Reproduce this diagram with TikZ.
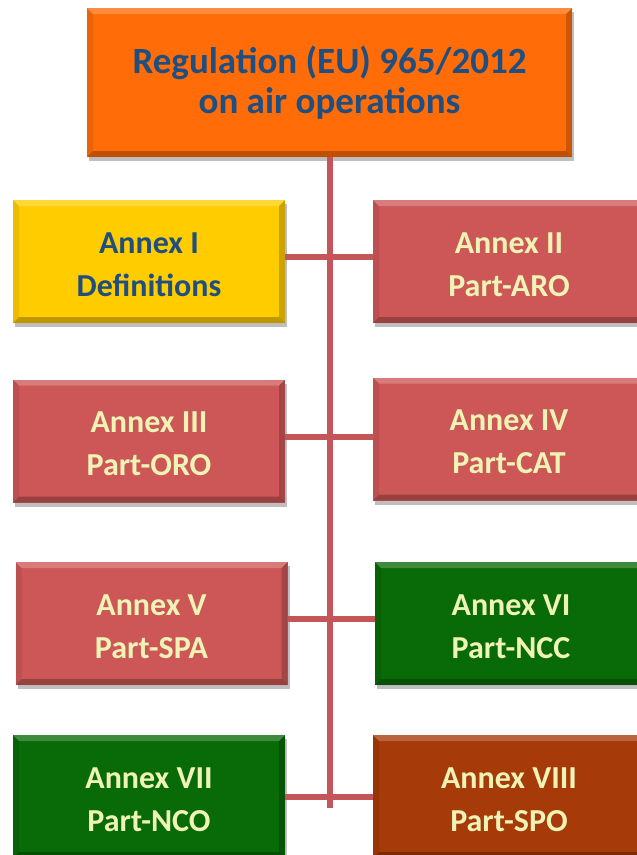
\documentclass[tikz,border=0pt]{standalone}
\usepackage{fontspec}
\setmainfont{Carlito}
\usetikzlibrary{shadows}
\definecolor{cOrange}{HTML}{FF6C08}
\definecolor{cYellow}{HTML}{FFCC00}
\definecolor{cRed}{HTML}{CD5757}
\definecolor{cGreen}{HTML}{086B08}
\definecolor{cBrown}{HTML}{A63A08}
\definecolor{cLine}{HTML}{C4565A}
\definecolor{tBlue}{HTML}{1F4E80}
\definecolor{tLight}{HTML}{EFF4B6}
\newcommand{\tallrow}{\rule{0pt}{27pt}}
\tikzset{
  bevel/.style={path picture={
    \fill[white,opacity=0.22] (path picture bounding box.north west) -- (path picture bounding box.north east) -- ([shift={(-6pt,-6pt)}]path picture bounding box.north east) -- ([shift={(6pt,-6pt)}]path picture bounding box.north west) -- cycle;
    \fill[black,opacity=0.08] (path picture bounding box.north west) -- ([shift={(6pt,-6pt)}]path picture bounding box.north west) -- ([shift={(6pt,6pt)}]path picture bounding box.south west) -- (path picture bounding box.south west) -- cycle;
    \fill[black,opacity=0.2] (path picture bounding box.north east) -- ([shift={(-6pt,-6pt)}]path picture bounding box.north east) -- ([shift={(-6pt,6pt)}]path picture bounding box.south east) -- (path picture bounding box.south east) -- cycle;
    \fill[black,opacity=0.25] (path picture bounding box.south west) -- ([shift={(6pt,6pt)}]path picture bounding box.south west) -- ([shift={(-6pt,6pt)}]path picture bounding box.south east) -- (path picture bounding box.south east) -- cycle;
  }},
  box/.style={rectangle, minimum width=272pt, minimum height=123pt, inner sep=0pt,
    align=center, text=tLight, font=\fontsize{32}{43}\selectfont\bfseries,
    drop shadow={shadow xshift=2pt, shadow yshift=-4pt, opacity=0.25, fill=black}, bevel},
  topbox/.style={box, minimum width=485pt, minimum height=149pt, fill=cOrange, text=tBlue,
    font=\fontsize{37}{41}\selectfont\bfseries},
  link/.style={draw=cLine, line width=6pt}
}
\begin{document}
\begin{tikzpicture}[x=1pt,y=-1pt]
\useasboundingbox (0,0) rectangle (637,855);
\node[topbox] (reg) at (329.5,82.5) {Regulation (EU) 965/2012\\[-1pt]on air operations};
\coordinate (vend) at (330,808);
\draw[link] (reg.south -| vend) -- (vend);
\node[box, fill=cYellow, text=tBlue] (a1) at (149,261.5) {\tallrow Annex I\\Definitions};
\node[box, fill=cRed] (a2) at (509,261.5) {\tallrow Annex II\\Part-ARO};
\node[box, fill=cRed] (a3) at (149,441) {\tallrow Annex III\\Part-ORO};
\node[box, fill=cRed] (a4) at (509,439) {\tallrow Annex IV\\Part-CAT};
\node[box, fill=cRed] (a5) at (151.5,623.5) {\tallrow Annex V\\Part-SPA};
\node[box, fill=cGreen] (a6) at (511,623.5) {\tallrow Annex VI\\Part-NCC};
\node[box, fill=cGreen] (a7) at (149,796.5) {\tallrow Annex VII\\Part-NCO};
\node[box, fill=cBrown] (a8) at (509,796.5) {\tallrow Annex VIII\\Part-SPO};
\draw[link] ([yshift=5pt]a1.east) -- ([yshift=5pt]a1.east -| a2.west);
\draw[link] ([yshift=4pt]a3.east) -- ([yshift=4pt]a3.east -| a4.west);
\draw[link] ([yshift=5pt]a5.east) -- ([yshift=5pt]a5.east -| a6.west);
\draw[link] (a7.east) -- (a7.east -| a8.west);
\end{tikzpicture}
\end{document}
